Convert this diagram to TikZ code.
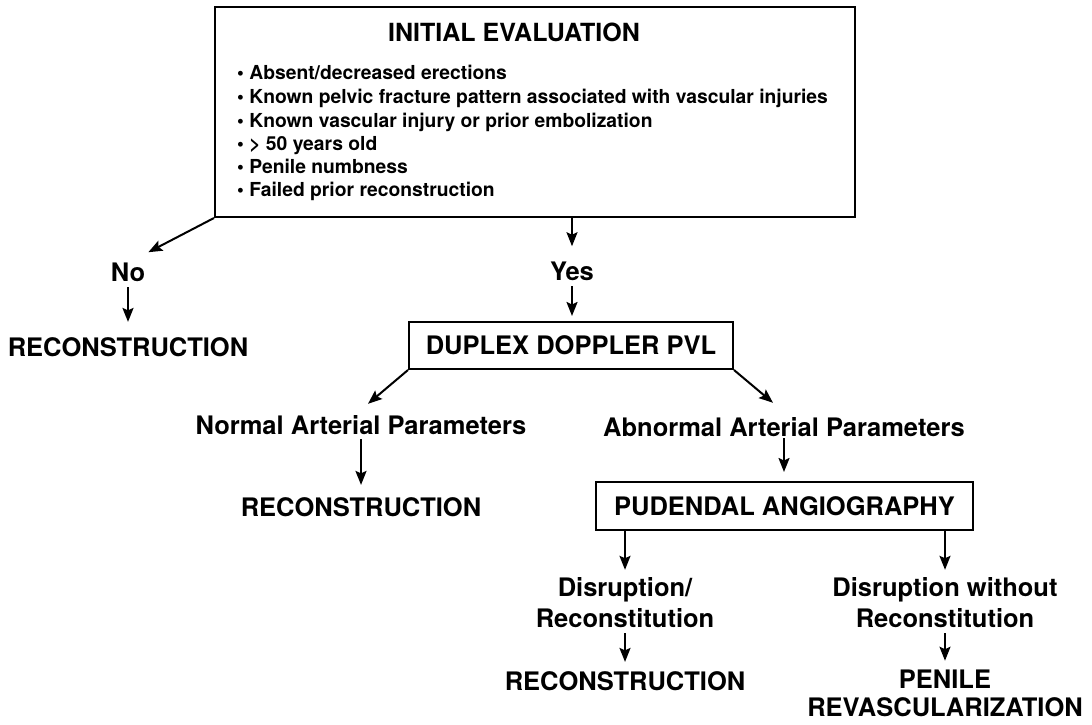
\documentclass[tikz,border=0pt]{standalone}
\usepackage{fontspec}
\setmainfont{TeX Gyre Heros}
\usetikzlibrary{arrows.meta}
\begin{document}
\begin{tikzpicture}[x=1pt,y=-1pt,
  lbl/.style={font=\bfseries\fontsize{25.5}{31}\selectfont, inner sep=0pt, anchor=base, align=center},
  bul/.style={font=\bfseries\fontsize{19.3}{23}\selectfont, inner sep=0pt, anchor=base west},
  boxed/.style={draw, line width=2pt, inner sep=0pt, font=\bfseries\fontsize{25.5}{31}\selectfont},
  arr/.style={line width=2pt, -{Stealth[length=14pt,width=11pt,inset=2.5pt]}}]
\useasboundingbox (0,0) rectangle (1092,724);

% top box
\node[boxed, minimum width=640pt, minimum height=210pt] (init) at (535,112) {};
\node[lbl, font=\bfseries\fontsize{25}{30}\selectfont] (title) at (514,41) {INITIAL EVALUATION};
\node[bul] (b1) at (237,79)  {\textbullet\ Absent/decreased erections};
\node[bul] (b2) at (237,103) {\textbullet\ Known pelvic fracture pattern associated with vascular injuries};
\node[bul] (b3) at (237,127) {\textbullet\ Known vascular injury or prior embolization};
\node[bul] (b4) at (237,150) {\textbullet\ > 50 years old};
\node[bul] (b5) at (237,173) {\textbullet\ Penile numbness};
\node[bul] (b6) at (237,196) {\textbullet\ Failed prior reconstruction};

% No branch
\node[lbl] (no) at (128,281) {No};
\node[lbl] (rec1) at (128,356) {RECONSTRUCTION};

% Yes branch
\node[lbl] (yes) at (572,280) {Yes};
\node[boxed, minimum width=324pt, minimum height=47pt] (duplex) at (571,345.5) {DUPLEX DOPPLER PVL};

\node[lbl] (normal) at (361,434) {Normal Arterial Parameters};
\node[lbl] (rec2) at (361,516) {RECONSTRUCTION};
\node[lbl] (abnormal) at (784,436) {Abnormal Arterial Parameters};

\node[boxed, minimum width=377pt, minimum height=48pt] (pud) at (784.5,506) {PUDENDAL ANGIOGRAPHY};

\node[lbl] (dis1) at (625,627) {Disruption/\\Reconstitution};
\node[lbl] (dis2) at (945,627) {Disruption without\\Reconstitution};
\node[lbl] (rec3) at (625,690) {RECONSTRUCTION};
\node[lbl, font=\bfseries\fontsize{25.5}{27.5}\selectfont] (pen) at (945,716) {PENILE\\REVASCULARIZATION};

% connectors
\draw[arr] (init.south west) -- ([shift={(3,-10)}]no.north east);
\draw[arr, shorten <=6pt, shorten >=15pt] (no.south) -- (rec1.north);
\draw[arr, shorten >=15pt] (init.south -| yes.north) -- (yes.north);
\draw[arr, shorten <=6pt, shorten >=5pt] (yes.south) -- (yes.south |- duplex.north);
\draw[arr] (duplex.south west) -- ([shift={(7,-11)}]normal.north);
\draw[arr] (duplex.south east) -- ([shift={(-11,-14)}]abnormal.north);
\draw[arr, shorten <=5pt, shorten >=12pt] (normal.south) -- (rec2.north);
\draw[arr, shorten <=2pt, shorten >=9pt] (abnormal.south) -- (abnormal.south |- pud.north);
\draw[arr, shorten >=7pt] (pud.south -| dis1.north) -- (dis1.north);
\draw[arr, shorten >=7pt] (pud.south -| dis2.north) -- (dis2.north);
\draw[arr, shorten <=6pt, shorten >=9pt] (dis1.south) -- (rec3.north);
\draw[arr, shorten <=6pt, shorten >=9pt] (dis2.south) -- (pen.north);
\end{tikzpicture}
\end{document}
